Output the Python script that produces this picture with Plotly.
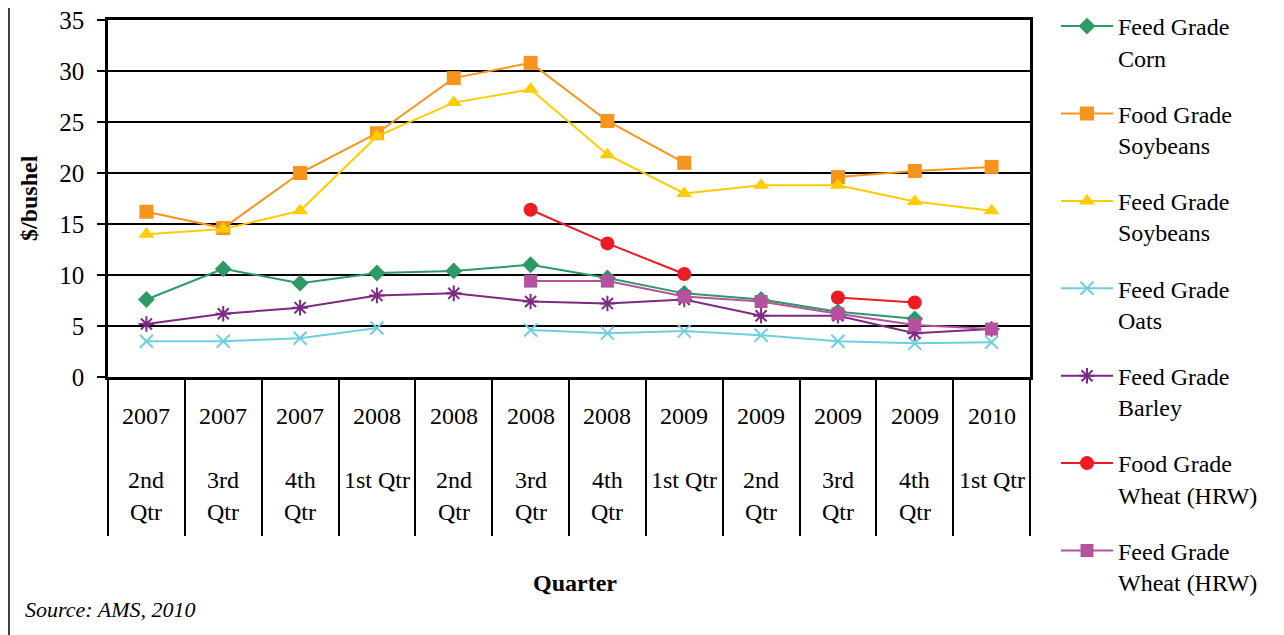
import plotly.graph_objects as go

years = ["2007", "2007", "2007", "2008", "2008", "2008", "2008", "2009", "2009", "2009", "2009", "2010"]
quarters = ["2nd Qtr", "3rd Qtr", "4th Qtr", "1st Qtr", "2nd Qtr", "3rd Qtr", "4th Qtr",
            "1st Qtr", "2nd Qtr", "3rd Qtr", "4th Qtr", "1st Qtr"]

feed_corn = [7.6, 10.6, 9.2, 10.2, 10.4, 11.0, 9.7, 8.2, 7.6, 6.4, 5.7, None]
food_soybeans = [16.2, 14.6, 20.0, 23.9, 29.3, 30.8, 25.1, 21.0, None, 19.6, 20.2, 20.6]
feed_soybeans = [14.0, 14.5, 16.3, 23.6, 26.9, 28.2, 21.8, 18.0, 18.8, 18.8, 17.2, 16.3]
feed_oats = [3.5, 3.5, 3.8, 4.8, None, 4.6, 4.3, 4.5, 4.1, 3.5, 3.3, 3.4]
feed_barley = [5.2, 6.2, 6.8, 8.0, 8.2, 7.4, 7.2, 7.6, 6.0, 6.0, 4.3, 4.7]
food_wheat = [None, None, None, None, None, 16.4, 13.1, 10.1, None, 7.8, 7.3, None]
feed_wheat = [None, None, None, None, None, 9.4, 9.4, 7.9, 7.4, 6.2, 5.1, 4.7]

series = [
    ("Feed Grade<br>Corn", feed_corn, "#2E9967", "diamond", 13),
    ("Food Grade<br>Soybeans", food_soybeans, "#F7941E", "square", 14),
    ("Feed Grade<br>Soybeans", feed_soybeans, "#FFCC00", "triangle-up", 14),
    ("Feed Grade<br>Oats", feed_oats, "#6FCFE0", "x-thin-open", 13),
    ("Feed Grade<br>Barley", feed_barley, "#7D2A82", "asterisk-open", 13),
    ("Food Grade<br>Wheat (HRW)", food_wheat, "#ED1C24", "circle", 14),
    ("Feed Grade<br>Wheat (HRW)", feed_wheat, "#B5529E", "square", 13),
]

cats = [f"{y} {q}" for y, q in zip(years, quarters)]

FONT = "Liberation Serif"
OFF = 8  # page body margin
W, H = 1284, 635
# target plot area in screen pixels
SL, SR, ST, SB = 108, 1030, 20, 377
L, T = SL - OFF, ST - OFF
R, B = W - (SR - OFF), H - (SB - OFF)
pw, ph = W - L - R, H - T - B


def px_x(sx):
    return (sx - OFF - L) / pw


def px_y(sy):
    return (H - B - (sy - OFF)) / ph


fig = go.Figure()
for i, (name, vals, color, sym, size) in enumerate(series):
    open_sym = sym.endswith("open")
    fig.add_trace(go.Scatter(
        x=cats, y=vals, name=name, mode="lines+markers",
        legendgroup=f"g{i}",
        line=dict(color=color, width=2),
        marker=dict(symbol=sym, size=size, color=color,
                    line=dict(color=color, width=2 if open_sym else 0)),
        connectgaps=False,
    ))

ann = []
for c, y, q in zip(cats, years, quarters):
    parts = q.split()
    if q.startswith("1st"):
        r1, r2 = q, ""
    else:
        r1, r2 = parts[0], parts[1]
    for txt, ypx in ((y, 416), (r1, 480), (r2, 512)):
        if txt:
            ann.append(dict(x=c, xref="x", y=px_y(ypx), yref="paper",
                            text=txt, showarrow=False, yanchor="middle", xanchor="center",
                            font=dict(family=FONT, size=24, color="black")))

ann.append(dict(x=px_x(29), xref="paper", y=px_y(198), yref="paper",
                text="<b>$/bushel</b>", textangle=-90, showarrow=False,
                xanchor="center", yanchor="middle",
                font=dict(family=FONT, size=24, color="black")))
ann.append(dict(x=px_x(575), xref="paper", y=px_y(583), yref="paper",
                text="<b>Quarter</b>", showarrow=False, xanchor="center", yanchor="middle",
                font=dict(family=FONT, size=24, color="black")))
ann.append(dict(x=px_x(23), xref="paper", y=px_y(609), yref="paper",
                text="<i>Source: AMS, 2010</i>", showarrow=False, xanchor="left", yanchor="middle",
                font=dict(family=FONT, size=22, color="black")))

fig.update_layout(
    width=W, height=H,
    margin=dict(l=L, r=R, t=T, b=B, autoexpand=False),
    paper_bgcolor="white", plot_bgcolor="white",
    font=dict(family=FONT, size=24, color="black"),
    annotations=ann,
    legend=dict(x=px_x(1056), xanchor="left", y=px_y(4), yanchor="top",
                font=dict(family=FONT, size=24, color="black"),
                valign="top", itemwidth=52, tracegroupgap=22,
                maxheight=630,
                bgcolor="rgba(0,0,0,0)"),
    shapes=[dict(type="line", xref="paper", yref="paper",
                 x0=px_x(OFF + 1), x1=px_x(OFF + 1),
                 y0=px_y(OFF), y1=px_y(OFF + H),
                 line=dict(color="black", width=1.5))],
)

fig.update_xaxes(
    type="category", range=[-0.5, 11.5], tickson="boundaries", ticks="outside", ticklen=156,
    tickwidth=2, tickcolor="black", showticklabels=False, showgrid=False,
    showline=True, linecolor="black", linewidth=2.5, mirror=True, zeroline=False,
)
fig.update_yaxes(
    range=[0, 35], dtick=5, tick0=0, showgrid=True, gridcolor="black", gridwidth=2,
    showline=True, linecolor="black", linewidth=2.5, mirror=True,
    ticks="outside", ticklen=8, tickwidth=2, tickcolor="black",
    ticklabelstandoff=8, ticklabeloverflow="allow", zeroline=False,
    tickfont=dict(family=FONT, size=25, color="black"),
)

fig.write_html("out.html")
